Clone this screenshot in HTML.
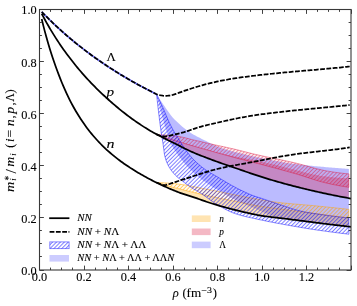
<!DOCTYPE html>
<html><head><meta charset="utf-8"><title>chart</title>
<style>html,body{margin:0;padding:0;background:#fff;overflow:hidden}svg{display:block;will-change:transform}text{font-family:"Liberation Serif",serif;stroke:#000;stroke-width:0.1px}</style></head>
<body>
<svg width="357" height="306" viewBox="0 0 357 306">
<defs>
<pattern id="hb" width="2.76" height="2.76" patternUnits="userSpaceOnUse" patternTransform="rotate(-45)"><line x1="-1" y1="1.38" x2="4" y2="1.38" stroke="#0000ff" stroke-opacity="0.52" stroke-width="0.98"/></pattern>
<pattern id="hr" width="2.76" height="2.76" patternUnits="userSpaceOnUse" patternTransform="rotate(-45)"><line x1="-1" y1="1.38" x2="4" y2="1.38" stroke="#dc143c" stroke-opacity="0.5" stroke-width="1.25"/></pattern>
<pattern id="ho" width="2.76" height="2.76" patternUnits="userSpaceOnUse" patternTransform="rotate(-45)"><line x1="-1" y1="1.38" x2="4" y2="1.38" stroke="#ffa500" stroke-opacity="0.6" stroke-width="1.05"/></pattern>
<clipPath id="cp"><rect x="39.5" y="9.5" width="311.5" height="260.5"/></clipPath>
</defs>
<rect width="357" height="306" fill="#fff"/>
<g clip-path="url(#cp)">
<path d="M156.50,94.10 L158.12,96.63 L159.73,99.13 L161.35,101.58 L162.97,103.98 L164.58,106.35 L166.20,108.70 L167.82,111.07 L169.43,113.36 L171.05,115.49 L172.67,117.40 L174.28,119.15 L175.90,120.80 L177.52,122.36 L179.14,123.85 L180.75,125.29 L182.37,126.69 L183.99,128.03 L185.60,129.31 L187.22,130.53 L188.84,131.66 L190.45,132.72 L192.07,133.71 L193.69,134.66 L195.30,135.57 L196.92,136.46 L198.54,137.31 L200.15,138.12 L201.77,138.91 L203.39,139.70 L205.00,140.50 L206.62,141.34 L208.24,142.20 L209.85,143.05 L211.47,143.85 L213.09,144.58 L214.71,145.29 L216.32,145.97 L217.94,146.64 L219.56,147.27 L221.17,147.88 L222.79,148.46 L224.41,149.01 L226.02,149.52 L227.64,150.00 L229.26,150.46 L230.87,150.90 L232.49,151.32 L234.11,151.73 L235.72,152.14 L237.34,152.54 L238.96,152.94 L240.57,153.34 L242.19,153.75 L243.81,154.16 L245.42,154.56 L247.04,154.95 L248.66,155.34 L250.27,155.73 L251.89,156.10 L253.51,156.47 L255.13,156.83 L256.74,157.18 L258.36,157.53 L259.98,157.87 L261.59,158.21 L263.21,158.54 L264.83,158.87 L266.44,159.19 L268.06,159.51 L269.68,159.82 L271.29,160.12 L272.91,160.42 L274.53,160.72 L276.14,161.00 L277.76,161.29 L279.38,161.57 L280.99,161.85 L282.61,162.13 L284.23,162.40 L285.84,162.67 L287.46,162.93 L289.08,163.18 L290.69,163.42 L292.31,163.65 L293.93,163.86 L295.55,164.07 L297.16,164.27 L298.78,164.46 L300.40,164.64 L302.01,164.83 L303.63,165.00 L305.25,165.17 L306.86,165.34 L308.48,165.51 L310.10,165.67 L311.71,165.82 L313.33,165.98 L314.95,166.13 L316.56,166.28 L318.18,166.42 L319.80,166.57 L321.41,166.71 L323.03,166.85 L324.65,167.00 L326.26,167.14 L327.88,167.28 L329.50,167.41 L331.12,167.55 L332.73,167.68 L334.35,167.81 L335.97,167.94 L337.58,168.07 L339.20,168.20 L340.82,168.32 L342.43,168.44 L344.05,168.56 L345.67,168.67 L347.28,168.79 L348.90,168.90 L348.90,226.42 L347.28,226.23 L345.67,226.05 L344.05,225.86 L342.43,225.67 L340.82,225.49 L339.20,225.30 L337.58,225.11 L335.97,224.91 L334.35,224.72 L332.73,224.53 L331.12,224.33 L329.50,224.14 L327.88,223.94 L326.26,223.75 L324.65,223.55 L323.03,223.35 L321.41,223.15 L319.80,222.95 L318.18,222.75 L316.56,222.55 L314.95,222.34 L313.33,222.13 L311.71,221.93 L310.10,221.72 L308.48,221.50 L306.86,221.29 L305.25,221.08 L303.63,220.87 L302.01,220.65 L300.40,220.44 L298.78,220.23 L297.16,220.02 L295.55,219.81 L293.93,219.60 L292.31,219.39 L290.69,219.19 L289.08,218.99 L287.46,218.81 L285.84,218.64 L284.23,218.46 L282.61,218.26 L280.99,218.03 L279.38,217.76 L277.76,217.40 L276.14,216.97 L274.53,216.49 L272.91,215.95 L271.29,215.39 L269.68,214.81 L268.06,214.22 L266.44,213.61 L264.83,212.95 L263.21,212.25 L261.59,211.52 L259.98,210.77 L258.36,210.02 L256.74,209.28 L255.13,208.55 L253.51,207.86 L251.89,207.17 L250.27,206.49 L248.66,205.82 L247.04,205.15 L245.42,204.48 L243.81,203.80 L242.19,203.11 L240.57,202.41 L238.96,201.68 L237.34,200.93 L235.72,200.16 L234.11,199.35 L232.49,198.52 L230.87,197.65 L229.26,196.77 L227.64,195.86 L226.02,194.93 L224.41,193.98 L222.79,193.02 L221.17,192.06 L219.56,191.08 L217.94,190.10 L216.32,189.12 L214.71,188.14 L213.09,187.15 L211.47,186.15 L209.85,185.12 L208.24,184.07 L206.62,182.99 L205.00,181.86 L203.39,180.70 L201.77,179.48 L200.15,178.21 L198.54,176.89 L196.92,175.52 L195.30,174.10 L193.69,172.63 L192.07,171.11 L190.45,169.53 L188.84,167.90 L187.22,166.21 L185.60,164.46 L183.99,162.65 L182.37,160.71 L180.75,158.65 L179.14,156.48 L177.52,154.21 L175.90,151.85 L174.28,149.51 L172.67,147.04 L171.05,144.19 L169.43,140.58 L167.82,135.43 L166.20,130.06 L164.58,124.70 L162.97,119.06 L161.35,113.16 L159.73,107.05 L158.12,100.70 L156.50,94.10 Z" fill="#0000ff" fill-opacity="0.265"/>
<path d="M157.50,134.78 L159.11,135.30 L160.72,135.82 L162.33,136.34 L163.93,136.85 L165.54,137.36 L167.15,137.87 L168.76,138.37 L170.37,138.87 L171.98,139.37 L173.58,139.87 L175.19,140.36 L176.80,140.85 L178.41,141.33 L180.02,141.81 L181.63,142.29 L183.23,142.77 L184.84,143.25 L186.45,143.72 L188.06,144.19 L189.67,144.66 L191.28,145.12 L192.88,145.59 L194.49,146.05 L196.10,146.52 L197.71,146.98 L199.32,147.45 L200.93,147.92 L202.54,148.38 L204.14,148.84 L205.75,149.30 L207.36,149.75 L208.97,150.19 L210.58,150.63 L212.19,151.05 L213.79,151.46 L215.40,151.88 L217.01,152.29 L218.62,152.69 L220.23,153.09 L221.84,153.49 L223.44,153.88 L225.05,154.26 L226.66,154.64 L228.27,155.01 L229.88,155.38 L231.49,155.74 L233.09,156.09 L234.70,156.44 L236.31,156.77 L237.92,157.09 L239.53,157.41 L241.14,157.71 L242.75,158.00 L244.35,158.30 L245.96,158.59 L247.57,158.88 L249.18,159.17 L250.79,159.47 L252.40,159.78 L254.00,160.10 L255.61,160.43 L257.22,160.76 L258.83,161.11 L260.44,161.46 L262.05,161.81 L263.65,162.17 L265.26,162.53 L266.87,162.90 L268.48,163.27 L270.09,163.64 L271.70,164.02 L273.31,164.40 L274.91,164.78 L276.52,165.16 L278.13,165.55 L279.74,165.95 L281.35,166.35 L282.96,166.75 L284.56,167.16 L286.17,167.57 L287.78,167.98 L289.39,168.39 L291.00,168.79 L292.61,169.20 L294.21,169.60 L295.82,170.01 L297.43,170.42 L299.04,170.85 L300.65,171.29 L302.26,171.73 L303.86,172.16 L305.47,172.60 L307.08,173.02 L308.69,173.43 L310.30,173.82 L311.91,174.19 L313.52,174.53 L315.12,174.84 L316.73,175.12 L318.34,175.39 L319.95,175.65 L321.56,175.90 L323.17,176.14 L324.77,176.37 L326.38,176.59 L327.99,176.79 L329.60,176.98 L331.21,177.15 L332.82,177.31 L334.42,177.45 L336.03,177.58 L337.64,177.70 L339.25,177.82 L340.86,177.92 L342.47,178.02 L344.07,178.11 L345.68,178.19 L347.29,178.25 L348.90,178.30 L348.90,197.99 L347.29,197.70 L345.68,197.40 L344.07,197.10 L342.47,196.79 L340.86,196.49 L339.25,196.17 L337.64,195.86 L336.03,195.54 L334.42,195.22 L332.82,194.90 L331.21,194.57 L329.60,194.24 L327.99,193.90 L326.38,193.56 L324.77,193.22 L323.17,192.87 L321.56,192.52 L319.95,192.17 L318.34,191.81 L316.73,191.45 L315.12,191.09 L313.52,190.72 L311.91,190.35 L310.30,189.98 L308.69,189.60 L307.08,189.21 L305.47,188.83 L303.86,188.44 L302.26,188.05 L300.65,187.65 L299.04,187.25 L297.43,186.84 L295.82,186.43 L294.21,186.02 L292.61,185.60 L291.00,185.18 L289.39,184.76 L287.78,184.33 L286.17,183.89 L284.56,183.46 L282.96,183.02 L281.35,182.57 L279.74,182.12 L278.13,181.67 L276.52,181.21 L274.91,180.74 L273.31,180.28 L271.70,179.81 L270.09,179.33 L268.48,178.85 L266.87,178.36 L265.26,177.87 L263.65,177.37 L262.05,176.87 L260.44,176.36 L258.83,175.84 L257.22,175.31 L255.61,174.78 L254.00,174.23 L252.40,173.69 L250.79,173.14 L249.18,172.59 L247.57,172.04 L245.96,171.49 L244.35,170.94 L242.75,170.39 L241.14,169.84 L239.53,169.30 L237.92,168.74 L236.31,168.19 L234.70,167.64 L233.09,167.09 L231.49,166.53 L229.88,165.97 L228.27,165.42 L226.66,164.86 L225.05,164.31 L223.44,163.75 L221.84,163.19 L220.23,162.63 L218.62,162.06 L217.01,161.48 L215.40,160.90 L213.79,160.31 L212.19,159.72 L210.58,159.13 L208.97,158.53 L207.36,157.92 L205.75,157.30 L204.14,156.68 L202.54,156.05 L200.93,155.41 L199.32,154.76 L197.71,154.10 L196.10,153.44 L194.49,152.77 L192.88,152.08 L191.28,151.39 L189.67,150.68 L188.06,149.95 L186.45,149.21 L184.84,148.44 L183.23,147.65 L181.63,146.83 L180.02,146.00 L178.41,145.17 L176.80,144.33 L175.19,143.49 L173.58,142.66 L171.98,141.84 L170.37,141.03 L168.76,140.22 L167.15,139.41 L165.54,138.60 L163.93,137.80 L162.33,136.99 L160.72,136.19 L159.11,135.39 L157.50,134.58 Z" fill="#dc143c" fill-opacity="0.3"/>
<path d="M156.50,182.61 L158.12,183.10 L159.73,183.58 L161.35,184.06 L162.97,184.53 L164.58,185.00 L166.20,185.45 L167.82,185.90 L169.43,186.35 L171.05,186.78 L172.67,187.21 L174.28,187.62 L175.90,188.04 L177.52,188.44 L179.14,188.84 L180.75,189.25 L182.37,189.65 L183.99,190.05 L185.60,190.45 L187.22,190.86 L188.84,191.26 L190.45,191.67 L192.07,192.08 L193.69,192.48 L195.30,192.88 L196.92,193.27 L198.54,193.66 L200.15,194.04 L201.77,194.41 L203.39,194.78 L205.00,195.14 L206.62,195.50 L208.24,195.85 L209.85,196.20 L211.47,196.55 L213.09,196.90 L214.71,197.24 L216.32,197.58 L217.94,197.91 L219.56,198.24 L221.17,198.56 L222.79,198.89 L224.41,199.21 L226.02,199.53 L227.64,199.84 L229.26,200.16 L230.87,200.48 L232.49,200.80 L234.11,201.12 L235.72,201.45 L237.34,201.78 L238.96,202.11 L240.57,202.45 L242.19,202.80 L243.81,203.14 L245.42,203.48 L247.04,203.82 L248.66,204.15 L250.27,204.48 L251.89,204.80 L253.51,205.11 L255.13,205.41 L256.74,205.69 L258.36,205.96 L259.98,206.22 L261.59,206.47 L263.21,206.71 L264.83,206.95 L266.44,207.18 L268.06,207.41 L269.68,207.63 L271.29,207.85 L272.91,208.07 L274.53,208.29 L276.14,208.50 L277.76,208.72 L279.38,208.94 L280.99,209.16 L282.61,209.38 L284.23,209.60 L285.84,209.82 L287.46,210.03 L289.08,210.25 L290.69,210.46 L292.31,210.67 L293.93,210.88 L295.55,211.10 L297.16,211.31 L298.78,211.51 L300.40,211.72 L302.01,211.93 L303.63,212.14 L305.25,212.35 L306.86,212.56 L308.48,212.76 L310.10,212.97 L311.71,213.18 L313.33,213.39 L314.95,213.59 L316.56,213.80 L318.18,214.01 L319.80,214.22 L321.41,214.42 L323.03,214.63 L324.65,214.84 L326.26,215.04 L327.88,215.25 L329.50,215.45 L331.12,215.66 L332.73,215.87 L334.35,216.07 L335.97,216.27 L337.58,216.48 L339.20,216.68 L340.82,216.89 L342.43,217.09 L344.05,217.29 L345.67,217.50 L347.28,217.70 L348.90,217.90 L348.90,226.42 L347.28,226.23 L345.67,226.05 L344.05,225.86 L342.43,225.67 L340.82,225.48 L339.20,225.30 L337.58,225.11 L335.97,224.91 L334.35,224.72 L332.73,224.53 L331.12,224.34 L329.50,224.14 L327.88,223.95 L326.26,223.75 L324.65,223.55 L323.03,223.35 L321.41,223.15 L319.80,222.95 L318.18,222.75 L316.56,222.55 L314.95,222.34 L313.33,222.14 L311.71,221.93 L310.10,221.72 L308.48,221.52 L306.86,221.31 L305.25,221.10 L303.63,220.89 L302.01,220.68 L300.40,220.46 L298.78,220.25 L297.16,220.03 L295.55,219.82 L293.93,219.60 L292.31,219.39 L290.69,219.19 L289.08,218.98 L287.46,218.79 L285.84,218.59 L284.23,218.40 L282.61,218.21 L280.99,218.02 L279.38,217.83 L277.76,217.64 L276.14,217.44 L274.53,217.23 L272.91,217.03 L271.29,216.82 L269.68,216.61 L268.06,216.40 L266.44,216.18 L264.83,215.96 L263.21,215.73 L261.59,215.48 L259.98,215.22 L258.36,214.94 L256.74,214.65 L255.13,214.33 L253.51,214.01 L251.89,213.67 L250.27,213.32 L248.66,212.97 L247.04,212.61 L245.42,212.25 L243.81,211.88 L242.19,211.51 L240.57,211.13 L238.96,210.74 L237.34,210.35 L235.72,209.95 L234.11,209.54 L232.49,209.12 L230.87,208.70 L229.26,208.28 L227.64,207.85 L226.02,207.41 L224.41,206.97 L222.79,206.52 L221.17,206.06 L219.56,205.59 L217.94,205.12 L216.32,204.64 L214.71,204.14 L213.09,203.64 L211.47,203.11 L209.85,202.58 L208.24,202.04 L206.62,201.49 L205.00,200.94 L203.39,200.40 L201.77,199.86 L200.15,199.32 L198.54,198.80 L196.92,198.27 L195.30,197.75 L193.69,197.23 L192.07,196.70 L190.45,196.17 L188.84,195.63 L187.22,195.08 L185.60,194.51 L183.99,193.94 L182.37,193.36 L180.75,192.78 L179.14,192.18 L177.52,191.58 L175.90,190.96 L174.28,190.34 L172.67,189.69 L171.05,189.03 L169.43,188.36 L167.82,187.67 L166.20,186.96 L164.58,186.24 L162.97,185.50 L161.35,184.75 L159.73,183.98 L158.12,183.20 L156.50,182.41 Z" fill="#ffa500" fill-opacity="0.3"/>
<path d="M156.50,182.61 L158.12,182.63 L159.73,182.67 L161.35,182.73 L162.97,182.80 L164.58,182.88 L166.20,182.97 L167.82,183.06 L169.43,183.16 L171.05,183.27 L172.67,183.41 L174.28,183.56 L175.90,183.74 L177.52,183.94 L179.14,184.15 L180.75,184.38 L182.37,184.61 L183.99,184.85 L185.60,185.09 L187.22,185.37 L188.84,185.67 L190.45,185.99 L192.07,186.33 L193.69,186.67 L195.30,187.03 L196.92,187.37 L198.54,187.71 L200.15,188.03 L201.77,188.34 L203.39,188.64 L205.00,188.94 L206.62,189.24 L208.24,189.53 L209.85,189.83 L211.47,190.13 L213.09,190.43 L214.71,190.74 L216.32,191.06 L217.94,191.38 L219.56,191.71 L221.17,192.04 L222.79,192.38 L224.41,192.72 L226.02,193.06 L227.64,193.39 L229.26,193.73 L230.87,194.06 L232.49,194.40 L234.11,194.72 L235.72,195.04 L237.34,195.37 L238.96,195.69 L240.57,196.01 L242.19,196.34 L243.81,196.66 L245.42,196.98 L247.04,197.30 L248.66,197.61 L250.27,197.92 L251.89,198.22 L253.51,198.52 L255.13,198.81 L256.74,199.09 L258.36,199.36 L259.98,199.64 L261.59,199.91 L263.21,200.18 L264.83,200.45 L266.44,200.71 L268.06,200.97 L269.68,201.22 L271.29,201.46 L272.91,201.70 L274.53,201.93 L276.14,202.15 L277.76,202.35 L279.38,202.55 L280.99,202.74 L282.61,202.91 L284.23,203.08 L285.84,203.25 L287.46,203.40 L289.08,203.56 L290.69,203.70 L292.31,203.85 L293.93,203.99 L295.55,204.12 L297.16,204.26 L298.78,204.39 L300.40,204.53 L302.01,204.66 L303.63,204.79 L305.25,204.93 L306.86,205.06 L308.48,205.20 L310.10,205.34 L311.71,205.49 L313.33,205.64 L314.95,205.79 L316.56,205.95 L318.18,206.11 L319.80,206.28 L321.41,206.44 L323.03,206.60 L324.65,206.77 L326.26,206.94 L327.88,207.10 L329.50,207.27 L331.12,207.44 L332.73,207.62 L334.35,207.79 L335.97,207.96 L337.58,208.14 L339.20,208.32 L340.82,208.49 L342.43,208.67 L344.05,208.85 L345.67,209.03 L347.28,209.22 L348.90,209.40 L348.90,217.90 L347.28,217.70 L345.67,217.50 L344.05,217.29 L342.43,217.09 L340.82,216.89 L339.20,216.68 L337.58,216.48 L335.97,216.27 L334.35,216.07 L332.73,215.87 L331.12,215.66 L329.50,215.45 L327.88,215.25 L326.26,215.04 L324.65,214.84 L323.03,214.63 L321.41,214.42 L319.80,214.22 L318.18,214.01 L316.56,213.80 L314.95,213.59 L313.33,213.39 L311.71,213.18 L310.10,212.97 L308.48,212.76 L306.86,212.56 L305.25,212.35 L303.63,212.14 L302.01,211.93 L300.40,211.72 L298.78,211.51 L297.16,211.31 L295.55,211.10 L293.93,210.88 L292.31,210.67 L290.69,210.46 L289.08,210.25 L287.46,210.03 L285.84,209.82 L284.23,209.60 L282.61,209.38 L280.99,209.16 L279.38,208.94 L277.76,208.72 L276.14,208.50 L274.53,208.29 L272.91,208.07 L271.29,207.85 L269.68,207.63 L268.06,207.41 L266.44,207.18 L264.83,206.95 L263.21,206.71 L261.59,206.47 L259.98,206.22 L258.36,205.96 L256.74,205.69 L255.13,205.41 L253.51,205.11 L251.89,204.80 L250.27,204.48 L248.66,204.15 L247.04,203.82 L245.42,203.48 L243.81,203.14 L242.19,202.80 L240.57,202.45 L238.96,202.11 L237.34,201.78 L235.72,201.45 L234.11,201.12 L232.49,200.80 L230.87,200.48 L229.26,200.16 L227.64,199.84 L226.02,199.53 L224.41,199.21 L222.79,198.89 L221.17,198.56 L219.56,198.24 L217.94,197.91 L216.32,197.58 L214.71,197.24 L213.09,196.90 L211.47,196.55 L209.85,196.20 L208.24,195.85 L206.62,195.50 L205.00,195.14 L203.39,194.78 L201.77,194.41 L200.15,194.04 L198.54,193.66 L196.92,193.27 L195.30,192.88 L193.69,192.48 L192.07,192.08 L190.45,191.67 L188.84,191.26 L187.22,190.86 L185.60,190.45 L183.99,190.05 L182.37,189.65 L180.75,189.25 L179.14,188.84 L177.52,188.44 L175.90,188.04 L174.28,187.62 L172.67,187.21 L171.05,186.78 L169.43,186.35 L167.82,185.90 L166.20,185.45 L164.58,185.00 L162.97,184.53 L161.35,184.06 L159.73,183.58 L158.12,183.10 L156.50,182.61 Z" fill="url(#ho)" stroke="#ffa500" stroke-opacity="0.55" stroke-width="0.9"/>
<path d="M157.50,134.78 L159.11,134.80 L160.72,134.84 L162.33,134.90 L163.93,134.98 L165.54,135.08 L167.15,135.19 L168.76,135.32 L170.37,135.46 L171.98,135.61 L173.58,135.76 L175.19,135.92 L176.80,136.11 L178.41,136.36 L180.02,136.66 L181.63,136.99 L183.23,137.35 L184.84,137.74 L186.45,138.15 L188.06,138.57 L189.67,138.99 L191.28,139.40 L192.88,139.80 L194.49,140.18 L196.10,140.55 L197.71,140.91 L199.32,141.28 L200.93,141.65 L202.54,142.02 L204.14,142.40 L205.75,142.77 L207.36,143.14 L208.97,143.51 L210.58,143.88 L212.19,144.24 L213.79,144.60 L215.40,144.96 L217.01,145.31 L218.62,145.66 L220.23,146.01 L221.84,146.36 L223.44,146.71 L225.05,147.06 L226.66,147.41 L228.27,147.77 L229.88,148.13 L231.49,148.49 L233.09,148.86 L234.70,149.23 L236.31,149.61 L237.92,150.00 L239.53,150.41 L241.14,150.81 L242.75,151.22 L244.35,151.64 L245.96,152.05 L247.57,152.47 L249.18,152.88 L250.79,153.28 L252.40,153.68 L254.00,154.07 L255.61,154.44 L257.22,154.81 L258.83,155.17 L260.44,155.53 L262.05,155.88 L263.65,156.23 L265.26,156.57 L266.87,156.91 L268.48,157.25 L270.09,157.59 L271.70,157.92 L273.31,158.25 L274.91,158.58 L276.52,158.91 L278.13,159.24 L279.74,159.58 L281.35,159.91 L282.96,160.25 L284.56,160.59 L286.17,160.93 L287.78,161.28 L289.39,161.63 L291.00,161.99 L292.61,162.35 L294.21,162.72 L295.82,163.09 L297.43,163.49 L299.04,163.90 L300.65,164.32 L302.26,164.76 L303.86,165.20 L305.47,165.65 L307.08,166.10 L308.69,166.55 L310.30,167.00 L311.91,167.45 L313.52,167.89 L315.12,168.33 L316.73,168.75 L318.34,169.15 L319.95,169.54 L321.56,169.92 L323.17,170.27 L324.77,170.59 L326.38,170.89 L327.99,171.17 L329.60,171.43 L331.21,171.69 L332.82,171.95 L334.42,172.19 L336.03,172.42 L337.64,172.65 L339.25,172.86 L340.86,173.06 L342.47,173.26 L344.07,173.44 L345.68,173.60 L347.29,173.76 L348.90,173.90 L348.90,187.30 L347.29,187.07 L345.68,186.82 L344.07,186.56 L342.47,186.30 L340.86,186.02 L339.25,185.73 L337.64,185.43 L336.03,185.12 L334.42,184.80 L332.82,184.47 L331.21,184.13 L329.60,183.78 L327.99,183.42 L326.38,183.06 L324.77,182.67 L323.17,182.26 L321.56,181.83 L319.95,181.38 L318.34,180.91 L316.73,180.43 L315.12,179.94 L313.52,179.43 L311.91,178.92 L310.30,178.40 L308.69,177.88 L307.08,177.36 L305.47,176.84 L303.86,176.32 L302.26,175.80 L300.65,175.30 L299.04,174.80 L297.43,174.31 L295.82,173.84 L294.21,173.38 L292.61,172.92 L291.00,172.47 L289.39,172.02 L287.78,171.57 L286.17,171.12 L284.56,170.68 L282.96,170.24 L281.35,169.80 L279.74,169.36 L278.13,168.93 L276.52,168.49 L274.91,168.06 L273.31,167.63 L271.70,167.20 L270.09,166.77 L268.48,166.34 L266.87,165.92 L265.26,165.49 L263.65,165.07 L262.05,164.65 L260.44,164.22 L258.83,163.80 L257.22,163.38 L255.61,162.96 L254.00,162.54 L252.40,162.13 L250.79,161.72 L249.18,161.31 L247.57,160.91 L245.96,160.50 L244.35,160.10 L242.75,159.69 L241.14,159.29 L239.53,158.88 L237.92,158.47 L236.31,158.05 L234.70,157.62 L233.09,157.19 L231.49,156.75 L229.88,156.32 L228.27,155.87 L226.66,155.43 L225.05,154.98 L223.44,154.53 L221.84,154.07 L220.23,153.62 L218.62,153.17 L217.01,152.71 L215.40,152.26 L213.79,151.80 L212.19,151.35 L210.58,150.90 L208.97,150.45 L207.36,150.00 L205.75,149.55 L204.14,149.10 L202.54,148.65 L200.93,148.19 L199.32,147.74 L197.71,147.28 L196.10,146.82 L194.49,146.35 L192.88,145.89 L191.28,145.43 L189.67,144.96 L188.06,144.50 L186.45,144.03 L184.84,143.57 L183.23,143.09 L181.63,142.62 L180.02,142.14 L178.41,141.65 L176.80,141.16 L175.19,140.66 L173.58,140.15 L171.98,139.64 L170.37,139.12 L168.76,138.60 L167.15,138.07 L165.54,137.54 L163.93,137.00 L162.33,136.45 L160.72,135.90 L159.11,135.34 L157.50,134.78 Z" fill="url(#hr)" stroke="#dc143c" stroke-opacity="0.5" stroke-width="0.9"/>
<path d="M156.50,94.10 L158.12,97.38 L159.73,100.77 L161.35,104.26 L162.97,107.83 L164.58,111.56 L166.20,115.49 L167.82,119.31 L169.43,122.80 L171.05,126.10 L172.67,129.20 L174.28,132.04 L175.90,134.61 L177.52,137.11 L179.14,139.73 L180.75,142.39 L182.37,145.02 L183.99,147.53 L185.60,149.84 L187.22,152.05 L188.84,154.16 L190.45,156.15 L192.07,158.01 L193.69,159.70 L195.30,161.31 L196.92,162.83 L198.54,164.28 L200.15,165.66 L201.77,166.97 L203.39,168.22 L205.00,169.40 L206.62,170.52 L208.24,171.57 L209.85,172.56 L211.47,173.51 L213.09,174.44 L214.71,175.36 L216.32,176.28 L217.94,177.23 L219.56,178.19 L221.17,179.17 L222.79,180.16 L224.41,181.14 L226.02,182.11 L227.64,183.07 L229.26,184.01 L230.87,184.93 L232.49,185.82 L234.11,186.69 L235.72,187.55 L237.34,188.40 L238.96,189.22 L240.57,190.04 L242.19,190.83 L243.81,191.60 L245.42,192.36 L247.04,193.10 L248.66,193.82 L250.27,194.52 L251.89,195.18 L253.51,195.78 L255.13,196.34 L256.74,196.86 L258.36,197.36 L259.98,197.85 L261.59,198.37 L263.21,198.90 L264.83,199.45 L266.44,200.01 L268.06,200.57 L269.68,201.14 L271.29,201.71 L272.91,202.27 L274.53,202.83 L276.14,203.39 L277.76,203.93 L279.38,204.46 L280.99,204.99 L282.61,205.52 L284.23,206.06 L285.84,206.60 L287.46,207.14 L289.08,207.68 L290.69,208.21 L292.31,208.72 L293.93,209.22 L295.55,209.70 L297.16,210.16 L298.78,210.59 L300.40,210.99 L302.01,211.36 L303.63,211.70 L305.25,212.01 L306.86,212.30 L308.48,212.58 L310.10,212.84 L311.71,213.10 L313.33,213.35 L314.95,213.59 L316.56,213.84 L318.18,214.08 L319.80,214.32 L321.41,214.55 L323.03,214.79 L324.65,215.02 L326.26,215.25 L327.88,215.47 L329.50,215.69 L331.12,215.91 L332.73,216.12 L334.35,216.33 L335.97,216.54 L337.58,216.74 L339.20,216.93 L340.82,217.13 L342.43,217.31 L344.05,217.49 L345.67,217.67 L347.28,217.84 L348.90,218.00 L348.90,234.20 L347.28,234.01 L345.67,233.82 L344.05,233.63 L342.43,233.44 L340.82,233.24 L339.20,233.04 L337.58,232.83 L335.97,232.62 L334.35,232.41 L332.73,232.20 L331.12,231.99 L329.50,231.77 L327.88,231.55 L326.26,231.32 L324.65,231.10 L323.03,230.87 L321.41,230.64 L319.80,230.41 L318.18,230.17 L316.56,229.93 L314.95,229.69 L313.33,229.45 L311.71,229.20 L310.10,228.95 L308.48,228.70 L306.86,228.44 L305.25,228.18 L303.63,227.91 L302.01,227.64 L300.40,227.37 L298.78,227.10 L297.16,226.82 L295.55,226.54 L293.93,226.26 L292.31,225.97 L290.69,225.69 L289.08,225.40 L287.46,225.10 L285.84,224.81 L284.23,224.52 L282.61,224.22 L280.99,223.92 L279.38,223.62 L277.76,223.32 L276.14,223.02 L274.53,222.71 L272.91,222.40 L271.29,222.09 L269.68,221.77 L268.06,221.45 L266.44,221.12 L264.83,220.79 L263.21,220.45 L261.59,220.11 L259.98,219.77 L258.36,219.41 L256.74,219.05 L255.13,218.70 L253.51,218.35 L251.89,218.00 L250.27,217.65 L248.66,217.29 L247.04,216.92 L245.42,216.54 L243.81,216.15 L242.19,215.73 L240.57,215.30 L238.96,214.84 L237.34,214.36 L235.72,213.84 L234.11,213.29 L232.49,212.67 L230.87,211.98 L229.26,211.25 L227.64,210.46 L226.02,209.63 L224.41,208.76 L222.79,207.87 L221.17,206.95 L219.56,206.01 L217.94,205.07 L216.32,204.12 L214.71,203.10 L213.09,202.02 L211.47,200.89 L209.85,199.72 L208.24,198.53 L206.62,197.34 L205.00,196.16 L203.39,195.01 L201.77,193.90 L200.15,192.84 L198.54,191.86 L196.92,190.93 L195.30,190.00 L193.69,189.05 L192.07,188.05 L190.45,186.97 L188.84,185.86 L187.22,184.71 L185.60,183.52 L183.99,182.30 L182.37,181.06 L180.75,179.84 L179.14,178.58 L177.52,177.22 L175.90,175.71 L174.28,174.02 L172.67,172.17 L171.05,170.06 L169.43,167.58 L167.82,164.64 L166.20,160.91 L164.58,155.36 L162.97,143.42 L161.35,133.50 L159.73,121.64 L158.12,108.16 L156.50,94.10 Z" fill="url(#hb)" stroke="#0000ff" stroke-opacity="0.5" stroke-width="0.9"/>
<path d="M41.70,11.81 L42.66,12.80 L43.63,13.80 L44.59,14.78 L45.56,15.76 L46.52,16.73 L47.49,17.69 L48.45,18.64 L49.42,19.59 L50.38,20.53 L51.35,21.47 L52.31,22.40 L53.28,23.32 L54.24,24.23 L55.21,25.14 L56.17,26.04 L57.14,26.94 L58.10,27.83 L59.06,28.71 L60.03,29.59 L60.99,30.46 L61.96,31.32 L62.92,32.18 L63.89,33.03 L64.85,33.88 L65.82,34.72 L66.78,35.55 L67.75,36.38 L68.71,37.21 L69.68,38.02 L70.64,38.84 L71.61,39.64 L72.57,40.44 L73.54,41.24 L74.50,42.03 L75.46,42.82 L76.43,43.60 L77.39,44.37 L78.36,45.14 L79.32,45.91 L80.29,46.67 L81.25,47.42 L82.22,48.17 L83.18,48.92 L84.15,49.66 L85.11,50.40 L86.08,51.13 L87.04,51.85 L88.01,52.58 L88.97,53.29 L89.94,54.01 L90.90,54.72 L91.86,55.42 L92.83,56.12 L93.79,56.81 L94.76,57.50 L95.72,58.19 L96.69,58.87 L97.65,59.55 L98.62,60.22 L99.58,60.89 L100.55,61.56 L101.51,62.22 L102.48,62.88 L103.44,63.53 L104.41,64.18 L105.37,64.83 L106.34,65.47 L107.30,66.11 L108.26,66.74 L109.23,67.37 L110.19,68.00 L111.16,68.62 L112.12,69.24 L113.09,69.86 L114.05,70.47 L115.02,71.08 L115.98,71.68 L116.95,72.28 L117.91,72.88 L118.88,73.48 L119.84,74.07 L120.81,74.65 L121.77,75.24 L122.74,75.82 L123.70,76.40 L124.66,76.97 L125.63,77.54 L126.59,78.11 L127.56,78.67 L128.52,79.24 L129.49,79.79 L130.45,80.35 L131.42,80.90 L132.38,81.45 L133.35,82.00 L134.31,82.54 L135.28,83.08 L136.24,83.62 L137.21,84.15 L138.17,84.68 L139.14,85.21 L140.10,85.73 L141.06,86.26 L142.03,86.78 L142.99,87.29 L143.96,87.81 L144.92,88.32 L145.89,88.83 L146.85,89.33 L147.82,89.84 L148.78,90.34 L149.75,90.83 L150.71,91.33 L151.68,91.82 L152.64,92.31 L153.61,92.80 L154.57,93.29 L155.54,93.77 L156.50,94.25" fill="none" stroke="#6f6fff" stroke-width="1.75"/>
<path d="M41.70,19.02 L43.25,25.34 L44.81,31.35 L46.36,37.07 L47.92,42.52 L49.47,47.72 L51.03,52.69 L52.58,57.44 L54.13,62.07 L55.69,66.52 L57.24,70.81 L58.80,74.93 L60.35,78.90 L61.91,82.73 L63.46,86.41 L65.01,89.95 L66.57,93.36 L68.12,96.64 L69.68,99.79 L71.23,102.82 L72.79,105.73 L74.34,108.52 L75.89,111.21 L77.45,113.81 L79.00,116.31 L80.56,118.74 L82.11,121.08 L83.67,123.34 L85.22,125.53 L86.77,127.65 L88.33,129.70 L89.88,131.69 L91.44,133.61 L92.99,135.48 L94.55,137.29 L96.10,139.04 L97.65,140.75 L99.21,142.41 L100.76,144.01 L102.32,145.58 L103.87,147.10 L105.43,148.58 L106.98,150.02 L108.53,151.42 L110.09,152.78 L111.64,154.12 L113.20,155.41 L114.75,156.68 L116.31,157.91 L117.86,159.12 L119.41,160.30 L120.97,161.45 L122.52,162.58 L124.08,163.68 L125.63,164.76 L127.18,165.81 L128.74,166.85 L130.29,167.86 L131.85,168.85 L133.40,169.83 L134.96,170.79 L136.51,171.73 L138.06,172.66 L139.62,173.57 L141.17,174.46 L142.73,175.34 L144.28,176.21 L145.84,177.07 L147.39,177.91 L148.94,178.74 L150.50,179.56 L152.05,180.37 L153.61,181.17 L155.16,181.95 L156.72,182.72 L158.27,183.47 L159.82,184.22 L161.38,184.95 L162.93,185.67 L164.49,186.38 L166.04,187.07 L167.60,187.76 L169.15,188.43 L170.70,189.09 L172.26,189.74 L173.81,190.37 L175.37,191.00 L176.92,191.62 L178.48,192.22 L180.03,192.81 L181.58,193.38 L183.14,193.92 L184.69,194.44 L186.25,194.93 L187.80,195.42 L189.36,195.90 L190.91,196.38 L192.46,196.87 L194.02,197.37 L195.57,197.89 L197.13,198.43 L198.68,198.98 L200.24,199.53 L201.79,200.09 L203.34,200.64 L204.90,201.19 L206.45,201.73 L208.01,202.26 L209.56,202.76 L211.12,203.25 L212.67,203.73 L214.22,204.20 L215.78,204.67 L217.33,205.14 L218.89,205.59 L220.44,206.04 L222.00,206.49 L223.55,206.92 L225.10,207.36 L226.66,207.78 L228.21,208.20 L229.77,208.61 L231.32,209.02 L232.88,209.42 L234.43,209.82 L235.98,210.21 L237.54,210.59 L239.09,210.97 L240.65,211.34 L242.20,211.71 L243.76,212.07 L245.31,212.42 L246.86,212.77 L248.42,213.11 L249.97,213.45 L251.53,213.78 L253.08,214.11 L254.64,214.43 L256.19,214.74 L257.74,215.03 L259.30,215.31 L260.85,215.57 L262.41,215.82 L263.96,216.05 L265.52,216.28 L267.07,216.50 L268.62,216.70 L270.18,216.90 L271.73,217.10 L273.29,217.29 L274.84,217.47 L276.39,217.65 L277.95,217.83 L279.50,218.01 L281.06,218.19 L282.61,218.38 L284.17,218.56 L285.72,218.75 L287.27,218.94 L288.83,219.14 L290.38,219.35 L291.94,219.56 L293.49,219.77 L295.05,219.97 L296.60,220.18 L298.15,220.38 L299.71,220.58 L301.26,220.78 L302.82,220.98 L304.37,221.19 L305.93,221.38 L307.48,221.58 L309.03,221.78 L310.59,221.98 L312.14,222.18 L313.70,222.38 L315.25,222.58 L316.81,222.78 L318.36,222.97 L319.91,223.17 L321.47,223.36 L323.02,223.56 L324.58,223.75 L326.13,223.94 L327.69,224.13 L329.24,224.31 L330.79,224.50 L332.35,224.69 L333.90,224.87 L335.46,225.05 L337.01,225.24 L338.57,225.42 L340.12,225.60 L341.67,225.78 L343.23,225.96 L344.78,226.14 L346.34,226.32 L347.89,226.50 L349.45,226.68 L351.00,226.86" fill="none" stroke="#000" stroke-width="1.75"/>
<path d="M41.70,13.75 L43.25,16.68 L44.81,19.53 L46.36,22.32 L47.92,25.05 L49.47,27.73 L51.03,30.34 L52.58,32.90 L54.13,35.40 L55.69,37.85 L57.24,40.25 L58.80,42.61 L60.35,44.91 L61.91,47.17 L63.46,49.38 L65.01,51.55 L66.57,53.68 L68.12,55.76 L69.68,57.81 L71.23,59.84 L72.79,61.83 L74.34,63.79 L75.89,65.71 L77.45,67.60 L79.00,69.46 L80.56,71.29 L82.11,73.09 L83.67,74.86 L85.22,76.60 L86.77,78.31 L88.33,79.99 L89.88,81.65 L91.44,83.28 L92.99,84.89 L94.55,86.47 L96.10,88.03 L97.65,89.56 L99.21,91.07 L100.76,92.57 L102.32,94.04 L103.87,95.50 L105.43,96.93 L106.98,98.35 L108.53,99.76 L110.09,101.14 L111.64,102.51 L113.20,103.85 L114.75,105.18 L116.31,106.50 L117.86,107.79 L119.41,109.07 L120.97,110.33 L122.52,111.58 L124.08,112.80 L125.63,114.01 L127.18,115.20 L128.74,116.38 L130.29,117.53 L131.85,118.67 L133.40,119.79 L134.96,120.89 L136.51,121.97 L138.06,123.04 L139.62,124.09 L141.17,125.12 L142.73,126.13 L144.28,127.12 L145.84,128.09 L147.39,129.04 L148.94,129.98 L150.50,130.89 L152.05,131.79 L153.61,132.66 L155.16,133.52 L156.72,134.37 L158.27,135.19 L159.82,136.01 L161.38,136.81 L162.93,137.60 L164.49,138.38 L166.04,139.15 L167.60,139.92 L169.15,140.68 L170.70,141.43 L172.26,142.18 L173.81,142.93 L175.37,143.68 L176.92,144.46 L178.48,145.28 L180.03,146.11 L181.58,146.95 L183.14,147.78 L184.69,148.57 L186.25,149.32 L187.80,150.04 L189.36,150.74 L190.91,151.44 L192.46,152.12 L194.02,152.79 L195.57,153.44 L197.13,154.08 L198.68,154.71 L200.24,155.33 L201.79,155.95 L203.34,156.56 L204.90,157.17 L206.45,157.77 L208.01,158.36 L209.56,158.94 L211.12,159.52 L212.67,160.10 L214.22,160.67 L215.78,161.24 L217.33,161.80 L218.89,162.35 L220.44,162.91 L222.00,163.46 L223.55,164.00 L225.10,164.54 L226.66,165.08 L228.21,165.62 L229.77,166.15 L231.32,166.67 L232.88,167.19 L234.43,167.71 L235.98,168.23 L237.54,168.75 L239.09,169.29 L240.65,169.83 L242.20,170.37 L243.76,170.91 L245.31,171.46 L246.86,172.00 L248.42,172.54 L249.97,173.08 L251.53,173.61 L253.08,174.13 L254.64,174.64 L256.19,175.16 L257.74,175.68 L259.30,176.19 L260.85,176.69 L262.41,177.19 L263.96,177.68 L265.52,178.16 L267.07,178.63 L268.62,179.10 L270.18,179.56 L271.73,180.02 L273.29,180.47 L274.84,180.92 L276.39,181.37 L277.95,181.81 L279.50,182.25 L281.06,182.69 L282.61,183.12 L284.17,183.55 L285.72,183.97 L287.27,184.39 L288.83,184.81 L290.38,185.22 L291.94,185.63 L293.49,186.03 L295.05,186.43 L296.60,186.83 L298.15,187.22 L299.71,187.61 L301.26,188.00 L302.82,188.38 L304.37,188.76 L305.93,189.14 L307.48,189.51 L309.03,189.88 L310.59,190.24 L312.14,190.61 L313.70,190.96 L315.25,191.32 L316.81,191.67 L318.36,192.02 L319.91,192.36 L321.47,192.70 L323.02,193.04 L324.58,193.38 L326.13,193.71 L327.69,194.04 L329.24,194.36 L330.79,194.68 L332.35,195.00 L333.90,195.32 L335.46,195.63 L337.01,195.94 L338.57,196.24 L340.12,196.54 L341.67,196.84 L343.23,197.14 L344.78,197.43 L346.34,197.72 L347.89,198.01 L349.45,198.29 L351.00,198.57" fill="none" stroke="#000" stroke-width="1.75"/>
<path d="M41.70,11.81 L42.66,12.80 L43.63,13.80 L44.59,14.78 L45.56,15.76 L46.52,16.73 L47.49,17.69 L48.45,18.64 L49.42,19.59 L50.38,20.53 L51.35,21.47 L52.31,22.40 L53.28,23.32 L54.24,24.23 L55.21,25.14 L56.17,26.04 L57.14,26.94 L58.10,27.83 L59.06,28.71 L60.03,29.59 L60.99,30.46 L61.96,31.32 L62.92,32.18 L63.89,33.03 L64.85,33.88 L65.82,34.72 L66.78,35.55 L67.75,36.38 L68.71,37.21 L69.68,38.02 L70.64,38.84 L71.61,39.64 L72.57,40.44 L73.54,41.24 L74.50,42.03 L75.46,42.82 L76.43,43.60 L77.39,44.37 L78.36,45.14 L79.32,45.91 L80.29,46.67 L81.25,47.42 L82.22,48.17 L83.18,48.92 L84.15,49.66 L85.11,50.40 L86.08,51.13 L87.04,51.85 L88.01,52.58 L88.97,53.29 L89.94,54.01 L90.90,54.72 L91.86,55.42 L92.83,56.12 L93.79,56.81 L94.76,57.50 L95.72,58.19 L96.69,58.87 L97.65,59.55 L98.62,60.22 L99.58,60.89 L100.55,61.56 L101.51,62.22 L102.48,62.88 L103.44,63.53 L104.41,64.18 L105.37,64.83 L106.34,65.47 L107.30,66.11 L108.26,66.74 L109.23,67.37 L110.19,68.00 L111.16,68.62 L112.12,69.24 L113.09,69.86 L114.05,70.47 L115.02,71.08 L115.98,71.68 L116.95,72.28 L117.91,72.88 L118.88,73.48 L119.84,74.07 L120.81,74.65 L121.77,75.24 L122.74,75.82 L123.70,76.40 L124.66,76.97 L125.63,77.54 L126.59,78.11 L127.56,78.67 L128.52,79.24 L129.49,79.79 L130.45,80.35 L131.42,80.90 L132.38,81.45 L133.35,82.00 L134.31,82.54 L135.28,83.08 L136.24,83.62 L137.21,84.15 L138.17,84.68 L139.14,85.21 L140.10,85.73 L141.06,86.26 L142.03,86.78 L142.99,87.29 L143.96,87.81 L144.92,88.32 L145.89,88.83 L146.85,89.33 L147.82,89.84 L148.78,90.34 L149.75,90.83 L150.71,91.33 L151.68,91.82 L152.64,92.31 L153.61,92.80 L154.57,93.29 L155.54,93.77 L156.50,94.25 L158.12,94.72 L159.75,95.14 L161.37,95.47 L162.99,95.69 L164.62,95.81 L166.24,95.83 L167.86,95.74 L169.49,95.55 L171.11,95.26 L172.74,94.87 L174.36,94.40 L175.98,93.86 L177.61,93.28 L179.23,92.68 L180.85,92.09 L182.48,91.51 L184.10,90.94 L185.72,90.38 L187.35,89.83 L188.97,89.30 L190.59,88.78 L192.22,88.26 L193.84,87.76 L195.46,87.26 L197.09,86.77 L198.71,86.28 L200.34,85.81 L201.96,85.34 L203.58,84.89 L205.21,84.44 L206.83,84.01 L208.45,83.59 L210.08,83.18 L211.70,82.79 L213.32,82.41 L214.95,82.04 L216.57,81.68 L218.19,81.34 L219.82,81.01 L221.44,80.68 L223.06,80.37 L224.69,80.07 L226.31,79.78 L227.94,79.49 L229.56,79.21 L231.18,78.95 L232.81,78.68 L234.43,78.43 L236.05,78.18 L237.68,77.94 L239.30,77.70 L240.92,77.47 L242.55,77.24 L244.17,77.01 L245.79,76.79 L247.42,76.58 L249.04,76.37 L250.66,76.16 L252.29,75.95 L253.91,75.75 L255.54,75.55 L257.16,75.36 L258.78,75.17 L260.41,74.98 L262.03,74.80 L263.65,74.62 L265.28,74.44 L266.90,74.26 L268.52,74.09 L270.15,73.92 L271.77,73.75 L273.39,73.58 L275.02,73.42 L276.64,73.26 L278.26,73.10 L279.89,72.94 L281.51,72.79 L283.14,72.63 L284.76,72.48 L286.38,72.33 L288.01,72.18 L289.63,72.03 L291.25,71.89 L292.88,71.74 L294.50,71.60 L296.12,71.45 L297.75,71.31 L299.37,71.17 L300.99,71.03 L302.62,70.88 L304.24,70.74 L305.86,70.60 L307.49,70.46 L309.11,70.32 L310.74,70.18 L312.36,70.04 L313.98,69.90 L315.61,69.76 L317.23,69.61 L318.85,69.47 L320.48,69.33 L322.10,69.18 L323.72,69.04 L325.35,68.89 L326.97,68.74 L328.59,68.60 L330.22,68.45 L331.84,68.29 L333.46,68.14 L335.09,67.99 L336.71,67.83 L338.34,67.67 L339.96,67.51 L341.58,67.35 L343.21,67.18 L344.83,67.02 L346.45,66.85 L348.08,66.67 L349.70,66.50" fill="none" stroke="#000" stroke-width="1.75" stroke-dasharray="4.8 1.5"/>
<path d="M156.50,134.25 L158.12,134.92 L159.75,135.52 L161.37,135.99 L162.99,136.31 L164.62,136.41 L166.24,136.31 L167.86,136.06 L169.49,135.72 L171.11,135.34 L172.74,134.96 L174.36,134.58 L175.98,134.18 L177.61,133.79 L179.23,133.39 L180.85,132.99 L182.48,132.58 L184.10,132.15 L185.72,131.68 L187.35,131.17 L188.97,130.63 L190.59,130.05 L192.22,129.47 L193.84,128.88 L195.46,128.31 L197.09,127.77 L198.71,127.26 L200.34,126.79 L201.96,126.35 L203.58,125.93 L205.21,125.53 L206.83,125.14 L208.45,124.76 L210.08,124.38 L211.70,124.01 L213.32,123.63 L214.95,123.25 L216.57,122.88 L218.19,122.50 L219.82,122.13 L221.44,121.76 L223.06,121.39 L224.69,121.02 L226.31,120.66 L227.94,120.30 L229.56,119.94 L231.18,119.59 L232.81,119.25 L234.43,118.91 L236.05,118.58 L237.68,118.25 L239.30,117.93 L240.92,117.62 L242.55,117.32 L244.17,117.03 L245.79,116.74 L247.42,116.47 L249.04,116.19 L250.66,115.93 L252.29,115.67 L253.91,115.42 L255.54,115.17 L257.16,114.93 L258.78,114.70 L260.41,114.47 L262.03,114.24 L263.65,114.02 L265.28,113.81 L266.90,113.59 L268.52,113.39 L270.15,113.18 L271.77,112.98 L273.39,112.78 L275.02,112.59 L276.64,112.40 L278.26,112.21 L279.89,112.02 L281.51,111.84 L283.14,111.66 L284.76,111.48 L286.38,111.30 L288.01,111.13 L289.63,110.96 L291.25,110.79 L292.88,110.62 L294.50,110.45 L296.12,110.29 L297.75,110.12 L299.37,109.96 L300.99,109.80 L302.62,109.64 L304.24,109.48 L305.86,109.33 L307.49,109.17 L309.11,109.01 L310.74,108.86 L312.36,108.70 L313.98,108.55 L315.61,108.39 L317.23,108.24 L318.85,108.09 L320.48,107.93 L322.10,107.78 L323.72,107.62 L325.35,107.47 L326.97,107.31 L328.59,107.15 L330.22,107.00 L331.84,106.84 L333.46,106.68 L335.09,106.52 L336.71,106.35 L338.34,106.19 L339.96,106.03 L341.58,105.86 L343.21,105.69 L344.83,105.52 L346.45,105.35 L348.08,105.18 L349.70,105.00" fill="none" stroke="#000" stroke-width="1.75" stroke-dasharray="4.8 1.5"/>
<path d="M156.50,182.61 L158.12,183.02 L159.75,183.69 L161.37,184.39 L162.99,184.90 L164.62,185.05 L166.24,184.88 L167.86,184.49 L169.49,183.97 L171.11,183.43 L172.74,182.88 L174.36,182.34 L175.98,181.80 L177.61,181.26 L179.23,180.73 L180.85,180.20 L182.48,179.67 L184.10,179.14 L185.72,178.61 L187.35,178.08 L188.97,177.56 L190.59,177.03 L192.22,176.51 L193.84,175.98 L195.46,175.46 L197.09,174.94 L198.71,174.41 L200.34,173.89 L201.96,173.37 L203.58,172.85 L205.21,172.34 L206.83,171.84 L208.45,171.35 L210.08,170.88 L211.70,170.42 L213.32,169.98 L214.95,169.55 L216.57,169.14 L218.19,168.75 L219.82,168.36 L221.44,167.99 L223.06,167.63 L224.69,167.28 L226.31,166.94 L227.94,166.61 L229.56,166.28 L231.18,165.97 L232.81,165.65 L234.43,165.35 L236.05,165.05 L237.68,164.75 L239.30,164.45 L240.92,164.16 L242.55,163.86 L244.17,163.57 L245.79,163.28 L247.42,162.98 L249.04,162.68 L250.66,162.38 L252.29,162.07 L253.91,161.76 L255.54,161.44 L257.16,161.13 L258.78,160.81 L260.41,160.49 L262.03,160.17 L263.65,159.85 L265.28,159.53 L266.90,159.21 L268.52,158.89 L270.15,158.57 L271.77,158.25 L273.39,157.94 L275.02,157.63 L276.64,157.32 L278.26,157.02 L279.89,156.72 L281.51,156.43 L283.14,156.14 L284.76,155.86 L286.38,155.59 L288.01,155.32 L289.63,155.06 L291.25,154.81 L292.88,154.56 L294.50,154.33 L296.12,154.10 L297.75,153.87 L299.37,153.65 L300.99,153.44 L302.62,153.24 L304.24,153.03 L305.86,152.84 L307.49,152.64 L309.11,152.45 L310.74,152.26 L312.36,152.08 L313.98,151.89 L315.61,151.71 L317.23,151.53 L318.85,151.35 L320.48,151.17 L322.10,150.99 L323.72,150.80 L325.35,150.62 L326.97,150.44 L328.59,150.25 L330.22,150.06 L331.84,149.87 L333.46,149.67 L335.09,149.47 L336.71,149.26 L338.34,149.05 L339.96,148.84 L341.58,148.61 L343.21,148.39 L344.83,148.15 L346.45,147.91 L348.08,147.66 L349.70,147.40" fill="none" stroke="#000" stroke-width="1.75" stroke-dasharray="4.8 1.5"/>
</g>
<path d="M39.50,270 v-4.4 M39.50,9.5 v4.4 M50.50,270 v-2.4 M50.50,9.5 v2.4 M61.50,270 v-2.4 M61.50,9.5 v2.4 M72.50,270 v-2.4 M72.50,9.5 v2.4 M84.50,270 v-4.4 M84.50,9.5 v4.4 M95.50,270 v-2.4 M95.50,9.5 v2.4 M106.50,270 v-2.4 M106.50,9.5 v2.4 M117.50,270 v-2.4 M117.50,9.5 v2.4 M128.50,270 v-4.4 M128.50,9.5 v4.4 M139.50,270 v-2.4 M139.50,9.5 v2.4 M150.50,270 v-2.4 M150.50,9.5 v2.4 M161.50,270 v-2.4 M161.50,9.5 v2.4 M173.50,270 v-4.4 M173.50,9.5 v4.4 M184.50,270 v-2.4 M184.50,9.5 v2.4 M195.50,270 v-2.4 M195.50,9.5 v2.4 M206.50,270 v-2.4 M206.50,9.5 v2.4 M217.50,270 v-4.4 M217.50,9.5 v4.4 M228.50,270 v-2.4 M228.50,9.5 v2.4 M239.50,270 v-2.4 M239.50,9.5 v2.4 M250.50,270 v-2.4 M250.50,9.5 v2.4 M262.50,270 v-4.4 M262.50,9.5 v4.4 M273.50,270 v-2.4 M273.50,9.5 v2.4 M284.50,270 v-2.4 M284.50,9.5 v2.4 M295.50,270 v-2.4 M295.50,9.5 v2.4 M306.50,270 v-4.4 M306.50,9.5 v4.4 M317.50,270 v-2.4 M317.50,9.5 v2.4 M328.50,270 v-2.4 M328.50,9.5 v2.4 M339.50,270 v-2.4 M339.50,9.5 v2.4 M351.50,270 v-4.4 M351.50,9.5 v4.4 M39.5,270.50 h4.4 M351,270.50 h-4.4 M39.5,256.50 h2.4 M351,256.50 h-2.4 M39.5,243.50 h2.4 M351,243.50 h-2.4 M39.5,230.50 h2.4 M351,230.50 h-2.4 M39.5,217.50 h4.4 M351,217.50 h-4.4 M39.5,204.50 h2.4 M351,204.50 h-2.4 M39.5,191.50 h2.4 M351,191.50 h-2.4 M39.5,178.50 h2.4 M351,178.50 h-2.4 M39.5,165.50 h4.4 M351,165.50 h-4.4 M39.5,152.50 h2.4 M351,152.50 h-2.4 M39.5,139.50 h2.4 M351,139.50 h-2.4 M39.5,126.50 h2.4 M351,126.50 h-2.4 M39.5,113.50 h4.4 M351,113.50 h-4.4 M39.5,100.50 h2.4 M351,100.50 h-2.4 M39.5,87.50 h2.4 M351,87.50 h-2.4 M39.5,74.50 h2.4 M351,74.50 h-2.4 M39.5,61.50 h4.4 M351,61.50 h-4.4 M39.5,48.50 h2.4 M351,48.50 h-2.4 M39.5,35.50 h2.4 M351,35.50 h-2.4 M39.5,22.50 h2.4 M351,22.50 h-2.4 M39.5,9.50 h4.4 M351,9.50 h-4.4" stroke="#383838" stroke-width="0.95" fill="none"/>
<rect x="39.5" y="9.5" width="311.5" height="260.5" fill="none" stroke="#383838" stroke-width="1.1"/>
<text x="39.5" y="281.4" font-size="12.3" text-anchor="middle" font-family="Liberation Serif, serif" fill="#000">0.0</text>
<text x="84.0" y="281.4" font-size="12.3" text-anchor="middle" font-family="Liberation Serif, serif" fill="#000">0.2</text>
<text x="128.5" y="281.4" font-size="12.3" text-anchor="middle" font-family="Liberation Serif, serif" fill="#000">0.4</text>
<text x="173.0" y="281.4" font-size="12.3" text-anchor="middle" font-family="Liberation Serif, serif" fill="#000">0.6</text>
<text x="217.5" y="281.4" font-size="12.3" text-anchor="middle" font-family="Liberation Serif, serif" fill="#000">0.8</text>
<text x="262.0" y="281.4" font-size="12.3" text-anchor="middle" font-family="Liberation Serif, serif" fill="#000">1.0</text>
<text x="306.5" y="281.4" font-size="12.3" text-anchor="middle" font-family="Liberation Serif, serif" fill="#000">1.2</text>
<text x="36.7" y="274.9" font-size="12.3" text-anchor="end" font-family="Liberation Serif, serif" fill="#000">0.0</text>
<text x="36.7" y="222.8" font-size="12.3" text-anchor="end" font-family="Liberation Serif, serif" fill="#000">0.2</text>
<text x="36.7" y="170.7" font-size="12.3" text-anchor="end" font-family="Liberation Serif, serif" fill="#000">0.4</text>
<text x="36.7" y="118.6" font-size="12.3" text-anchor="end" font-family="Liberation Serif, serif" fill="#000">0.6</text>
<text x="36.7" y="66.5" font-size="12.3" text-anchor="end" font-family="Liberation Serif, serif" fill="#000">0.8</text>
<text x="36.7" y="14.4" font-size="12.3" text-anchor="end" font-family="Liberation Serif, serif" fill="#000">1.0</text>
<text x="172.8" y="297.4" font-size="12.5" font-style="italic" font-family="Liberation Serif, serif" fill="#000">ρ</text><text x="182.6" y="297.4" font-size="12.5" font-family="Liberation Serif, serif" fill="#000">(</text><text x="186.6" y="297.4" font-size="12.5" textLength="14.6" lengthAdjust="spacingAndGlyphs" font-family="Liberation Serif, serif" fill="#000">fm</text><text x="201.4" y="292.6" font-size="8.6" textLength="10.6" lengthAdjust="spacingAndGlyphs" font-family="Liberation Serif, serif" fill="#000">−3</text><text x="212.8" y="297.4" font-size="12.5" font-family="Liberation Serif, serif" fill="#000">)</text>
<g transform="translate(13.6,192) rotate(-90)"><text x="0" y="0" font-size="12.5" font-style="italic" textLength="10.2" lengthAdjust="spacingAndGlyphs" font-family="Liberation Serif, serif" fill="#000">m</text><text x="10.8" y="-4.6" font-size="7.2" font-family="Liberation Serif, serif" fill="#000">∗</text><text x="11.2" y="2.6" font-size="8.5" font-style="italic" font-family="Liberation Serif, serif" fill="#000">i</text><text x="18.4" y="2.2" font-size="15.5" font-family="Liberation Serif, serif" fill="#000">/</text><text x="25.2" y="0" font-size="12.5" font-style="italic" textLength="10.0" lengthAdjust="spacingAndGlyphs" font-family="Liberation Serif, serif" fill="#000">m</text><text x="36.2" y="2.6" font-size="8.5" font-style="italic" font-family="Liberation Serif, serif" fill="#000">i</text><text x="44.3" y="0" font-size="12.5" font-family="Liberation Serif, serif" fill="#000">(</text><text x="50.0" y="0" font-size="12.5" font-style="italic" font-family="Liberation Serif, serif" fill="#000">i</text><text x="54.6" y="0" font-size="12.5" textLength="7.6" lengthAdjust="spacingAndGlyphs" font-family="Liberation Serif, serif" fill="#000">=</text><text x="65.8" y="0" font-size="12.5" font-style="italic" textLength="7.0" lengthAdjust="spacingAndGlyphs" font-family="Liberation Serif, serif" fill="#000">n</text><text x="73.6" y="0" font-size="12.5" font-family="Liberation Serif, serif" fill="#000">,</text><text x="78.2" y="0" font-size="12.5" font-style="italic" textLength="7.0" lengthAdjust="spacingAndGlyphs" font-family="Liberation Serif, serif" fill="#000">p</text><text x="86.6" y="0" font-size="12.5" font-family="Liberation Serif, serif" fill="#000">,</text><text x="90.3" y="0" font-size="12.5" textLength="8.6" lengthAdjust="spacingAndGlyphs" font-family="Liberation Serif, serif" fill="#000">Λ</text><text x="98.6" y="0" font-size="12.5" font-family="Liberation Serif, serif" fill="#000">)</text></g>
<text x="106.4" y="61.3" font-size="12.8" textLength="9.4" lengthAdjust="spacingAndGlyphs" font-family="Liberation Serif, serif" fill="#000">Λ</text>
<text x="106.6" y="96" font-size="12.5" font-style="italic" textLength="7.6" lengthAdjust="spacingAndGlyphs" font-family="Liberation Serif, serif" fill="#000">p</text>
<text x="106.6" y="147.8" font-size="12.5" font-style="italic" textLength="8" lengthAdjust="spacingAndGlyphs" font-family="Liberation Serif, serif" fill="#000">n</text>
<path d="M49.2,218.2 H69.4" stroke="#000" stroke-width="1.75"/>
<path d="M49.6,231.8 H69.4" stroke="#000" stroke-width="1.75" stroke-dasharray="4.8 1.5"/>
<rect x="49.8" y="241.9" width="19.3" height="6.7" fill="url(#hb)" stroke="#0000ff" stroke-opacity="0.5" stroke-width="0.9"/>
<rect x="49.5" y="255" width="19.5" height="6.6" fill="#0000ff" fill-opacity="0.2"/>
<text x="77.3" y="221.3" font-size="9.3" font-style="italic" font-family="Liberation Serif, serif" fill="#000" textLength="14.5" lengthAdjust="spacingAndGlyphs">NN</text>
<text x="77.3" y="235.0" font-size="9.3" font-style="italic" font-family="Liberation Serif, serif" fill="#000" textLength="42" lengthAdjust="spacingAndGlyphs">NN<tspan font-style="normal"> + </tspan>N<tspan font-style="normal">Λ</tspan></text>
<text x="77.3" y="248.2" font-size="9.3" font-style="italic" font-family="Liberation Serif, serif" fill="#000" textLength="69" lengthAdjust="spacingAndGlyphs">NN<tspan font-style="normal"> + </tspan>N<tspan font-style="normal">Λ</tspan><tspan font-style="normal"> + </tspan><tspan font-style="normal">ΛΛ</tspan></text>
<text x="77.3" y="261.3" font-size="9.3" font-style="italic" font-family="Liberation Serif, serif" fill="#000" textLength="97" lengthAdjust="spacingAndGlyphs">NN<tspan font-style="normal"> + </tspan>N<tspan font-style="normal">Λ</tspan><tspan font-style="normal"> + </tspan><tspan font-style="normal">ΛΛ</tspan><tspan font-style="normal"> + </tspan><tspan font-style="normal">ΛΛ</tspan>N</text>
<rect x="191.8" y="215.4" width="18.8" height="6.6" fill="#ffa500" fill-opacity="0.3"/>
<rect x="191.8" y="228.5" width="18.8" height="6.6" fill="#dc143c" fill-opacity="0.3"/>
<rect x="191.8" y="241.6" width="18.8" height="6.6" fill="#0000ff" fill-opacity="0.2"/>
<text x="219.2" y="221.6" font-size="9.3" font-style="italic" font-family="Liberation Serif, serif" fill="#000">n</text>
<text x="219.2" y="234.6" font-size="9.3" font-style="italic" font-family="Liberation Serif, serif" fill="#000">p</text>
<text x="219.2" y="248.0" font-size="9.3" font-style="italic" font-family="Liberation Serif, serif" fill="#000"><tspan font-style="normal">Λ</tspan></text>
</svg>
</body></html>
